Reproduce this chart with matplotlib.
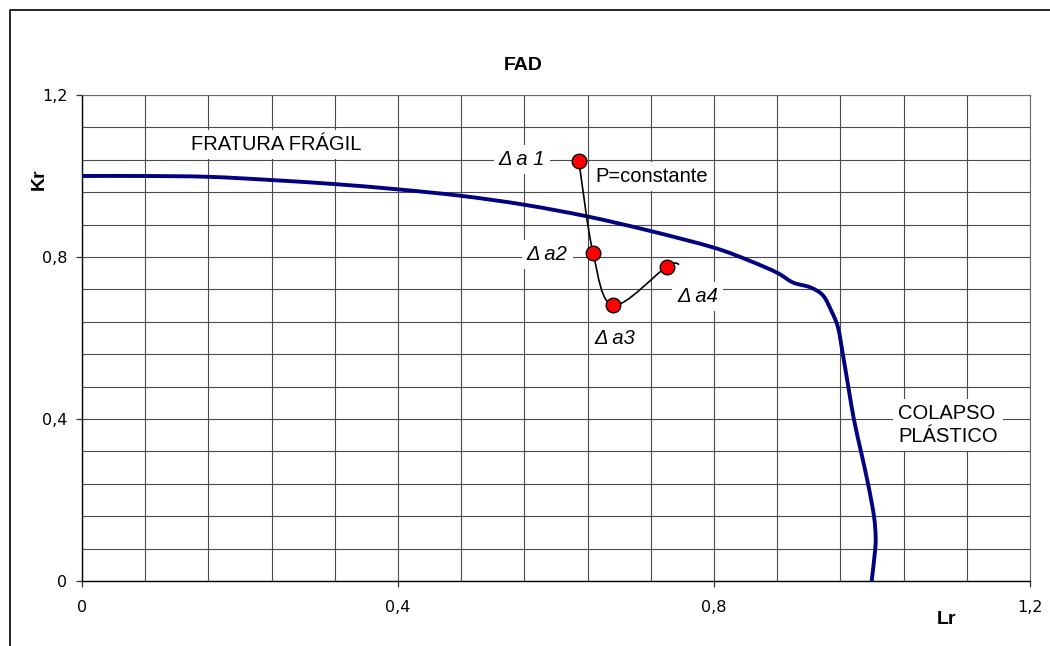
import matplotlib
matplotlib.use("Agg")
import matplotlib.pyplot as plt
from matplotlib.path import Path
from matplotlib.patches import PathPatch
from matplotlib.lines import Line2D
from matplotlib.ticker import MultipleLocator, FuncFormatter
import numpy as np

# FAD curve (Lr, Kr)
fad_lr = [0.0, 0.08, 0.16, 0.24, 0.32, 0.40, 0.48, 0.56, 0.64, 0.72, 0.80, 0.846,
          0.88, 0.90, 0.922, 0.938, 0.949, 0.957, 0.963, 0.97, 0.977, 0.986,
          0.995, 1.0025, 1.0046, 1.004, 0.9996]
fad_kr = [1.0, 1.0, 0.998, 0.99, 0.98, 0.967, 0.951, 0.929, 0.90, 0.864, 0.823, 0.79,
          0.761, 0.737, 0.725, 0.705, 0.665, 0.626, 0.561, 0.48, 0.40, 0.32,
          0.24, 0.16, 0.11, 0.077, 0.0]

# Crack growth path (P = constante)
path_lr = [0.629, 0.647, 0.6726, 0.740, 0.756]
path_kr = [1.036, 0.809, 0.681, 0.776, 0.782]
point_labels = ["Δ a 1", "Δ a2", "Δ a3", "Δ a4"]

title = "FAD"
xlabel = "Lr"
ylabel = "Kr"

TXT = "Liberation Sans"


def smooth_path(xs, ys):
    pts = np.column_stack([xs, ys])
    n = len(pts)
    verts = [tuple(pts[0])]
    codes = [Path.MOVETO]
    for i in range(n - 1):
        p0 = pts[i - 1] if i > 0 else pts[i]
        p1 = pts[i]
        p2 = pts[i + 1]
        p3 = pts[i + 2] if i + 2 < n else pts[i + 1]
        c1 = p1 + (p2 - p0) / 6.0
        c2 = p2 - (p3 - p1) / 6.0
        verts += [tuple(c1), tuple(c2), tuple(p2)]
        codes += [Path.CURVE4] * 3
    return Path(verts, codes)


fig = plt.figure(figsize=(10.5, 6.46), dpi=100)
fig.patch.set_facecolor("white")
ax = fig.add_axes([82/1050, 1-581/646, (1030-82)/1050, (581-95)/646])

ax.set_xlim(0, 1.2)
ax.set_ylim(0, 1.2)

ax.xaxis.set_major_locator(MultipleLocator(0.4))
ax.yaxis.set_major_locator(MultipleLocator(0.4))
ax.xaxis.set_minor_locator(MultipleLocator(0.08))
ax.yaxis.set_minor_locator(MultipleLocator(0.08))
fmt = FuncFormatter(lambda v, p: ("%g" % round(v, 2)).replace(".", ","))
ax.xaxis.set_major_formatter(fmt)
ax.yaxis.set_major_formatter(fmt)

ax.grid(True, which="both", color="#4a4a4a", linewidth=0.8, zorder=0)
ax.set_axisbelow(True)
ax.tick_params(which="minor", length=0)
ax.tick_params(which="major", direction="out", length=4.5, width=0.9,
               color="#333333", labelsize=11.5)
ax.tick_params(axis="y", pad=6)
ax.tick_params(axis="x", pad=9)
for lab in ax.get_xticklabels() + ax.get_yticklabels():
    lab.set_family("DejaVu Sans")

for s in ["top", "right"]:
    ax.spines[s].set_color("#6a6a6a")
    ax.spines[s].set_linewidth(0.8)
for s in ["left", "bottom"]:
    ax.spines[s].set_color("black")
    ax.spines[s].set_linewidth(1.0)

# FAD curve (smoothed)
ax.add_patch(PathPatch(smooth_path(fad_lr, fad_kr), fill=False,
                       edgecolor="#000080", linewidth=2.8, zorder=3))

# crack path (smoothed) with markers
ax.add_patch(PathPatch(smooth_path(path_lr, path_kr), fill=False,
                       edgecolor="black", linewidth=1.2, zorder=4))
ax.plot(path_lr[:4], path_kr[:4], linestyle="none", marker="o", markersize=10.5,
        markerfacecolor="#ff0000", markeredgecolor="black", markeredgewidth=1.0,
        zorder=5)

box = dict(boxstyle="square,pad=0.25", facecolor="white", edgecolor="none")

ax.text(0.2456, 1.077, "FRATURA FRÁGIL", fontsize=14.5, family=TXT,
        ha="center", va="center", bbox=box, zorder=6)
ax.text(0.7215, 0.9996, "P=constante", fontsize=14.5, family=TXT,
        ha="center", va="center", bbox=box, zorder=6)
ax.text(1.033, 0.3847, "COLAPSO\nPLÁSTICO", fontsize=14.5, family=TXT,
        ha="left", va="center", bbox=box, zorder=6, linespacing=1.3)

lab_pos = [(0.557, 1.0416), (0.589, 0.8066), (0.6747, 0.5987), (0.7797, 0.7027)]
for (lx, ly), t in zip(lab_pos, point_labels):
    ax.text(lx, ly, t, fontsize=14.5, family=TXT, style="italic",
            ha="center", va="center", bbox=box, zorder=6)

fig.text(523/1050, 1-65/646, title, fontsize=14, fontweight="bold",
         family=TXT, ha="center", va="center")
fig.text(947/1050, 1-620/646, xlabel, fontsize=14, fontweight="bold",
         family=TXT, ha="center", va="center")
fig.text(39/1050, 1-179/646, ylabel, fontsize=14, fontweight="bold",
         family=TXT, ha="center", va="center", rotation=90)

# outer chart frame (cropped on right and bottom)
fig.add_artist(Line2D([9.5/1050, 9.5/1050, 1.01], [-0.01, 1-9.5/646, 1-9.5/646],
                      transform=fig.transFigure, color="black", linewidth=1.2))

fig.savefig("out.png", dpi=100, facecolor="white")
